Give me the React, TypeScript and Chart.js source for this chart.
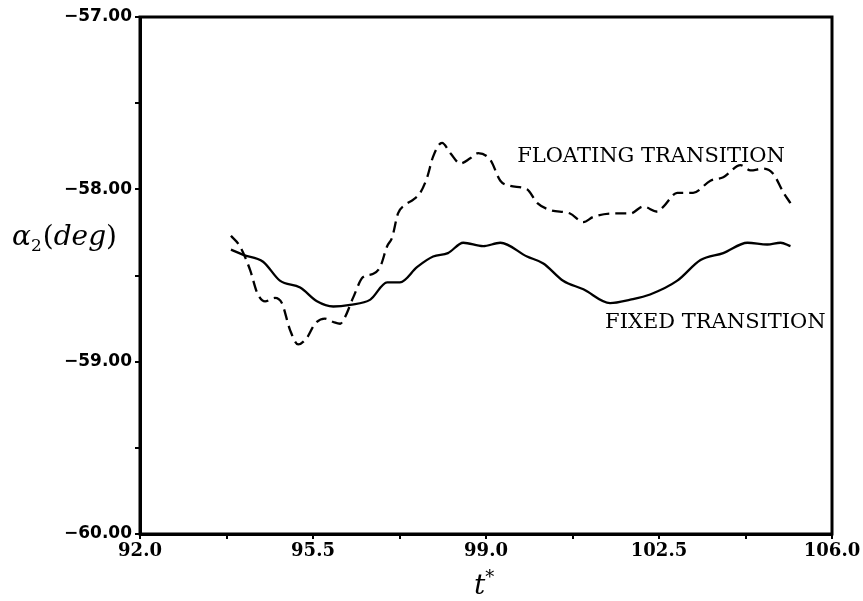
import React, { useEffect, useRef } from "react";
import { Chart, registerables } from "chart.js";

Chart.register(...registerables);

// ---- data ----
const fixedT = [93.84, 94.09, 94.49, 94.83, 95.24, 95.58, 95.91, 96.25, 96.66, 97.0, 97.26, 97.61, 97.93, 98.23, 98.54, 98.94, 99.29, 99.83, 100.16, 100.56, 100.97, 101.51, 101.92, 102.32, 102.87, 103.34, 103.8, 104.29, 104.69, 104.96, 105.16];
const fixedAlpha = [-58.35, -58.38, -58.42, -58.53, -58.57, -58.65, -58.68, -58.67, -58.64, -58.54, -58.54, -58.45, -58.39, -58.37, -58.31, -58.33, -58.31, -58.39, -58.43, -58.53, -58.58, -58.66, -58.64, -58.61, -58.53, -58.41, -58.37, -58.31, -58.32, -58.31, -58.33];

const floatT = [93.84, 94.02, 94.23, 94.37, 94.53, 94.73, 94.87, 95.04, 95.2, 95.38, 95.54, 95.74, 95.91, 96.05, 96.15, 96.31, 96.51, 96.72, 96.86, 97.0, 97.1, 97.22, 97.36, 97.53, 97.67, 97.81, 97.93, 98.11, 98.28, 98.48, 98.68, 98.84, 99.09, 99.29, 99.49, 99.83, 100.04, 100.3, 100.7, 100.97, 101.17, 101.57, 101.92, 102.18, 102.47, 102.59, 102.87, 103.19, 103.54, 103.8, 104.15, 104.35, 104.61, 104.81, 105.02, 105.16];
const floatAlpha = [-58.27, -58.33, -58.47, -58.6, -58.65, -58.63, -58.66, -58.82, -58.9, -58.86, -58.78, -58.75, -58.77, -58.78, -58.74, -58.63, -58.51, -58.49, -58.45, -58.33, -58.28, -58.14, -58.09, -58.06, -58.02, -57.93, -57.81, -57.73, -57.79, -57.85, -57.82, -57.79, -57.83, -57.95, -57.98, -58.0, -58.08, -58.12, -58.14, -58.19, -58.16, -58.14, -58.14, -58.1, -58.13, -58.1, -58.02, -58.02, -57.95, -57.93, -57.86, -57.89, -57.88, -57.91, -58.02, -58.08];

const xTickLabels = ["92.0", "95.5", "99.0", "102.5", "106.0"];
const yTickLabels = ["\u221260.00", "\u221259.00", "\u221258.00", "\u221257.00"];

const annotations = [
  { text: "FLOATING TRANSITION", x: 99.63, y: -57.84 },
  { text: "FIXED TRANSITION", x: 101.41, y: -58.805 },
];

const annotationPlugin = {
  id: "customText",
  afterDraw(chart: any) {
    const { ctx, chartArea, scales } = chart;
    ctx.save();
    // frame
    ctx.strokeStyle = "#000";
    ctx.lineWidth = 3;
    ctx.strokeRect(chartArea.left, chartArea.top, chartArea.right - chartArea.left, chartArea.bottom - chartArea.top);

    // curve labels
    ctx.fillStyle = "#000";
    ctx.font = "21px 'DejaVu Serif'";
    ctx.textAlign = "left";
    ctx.textBaseline = "alphabetic";
    for (const a of annotations) {
      ctx.fillText(a.text, scales.x.getPixelForValue(a.x), scales.y.getPixelForValue(a.y));
    }

    // y title: α2(deg)
    let x = 12;
    const base = 245;
    ctx.font = "italic 28px 'DejaVu Serif'";
    ctx.fillText("\u03b1", x, base);
    x += ctx.measureText("\u03b1").width;
    ctx.font = "17px 'DejaVu Serif'";
    ctx.fillText("2", x, base + 6);
    x += ctx.measureText("2").width + 1;
    ctx.font = "28px 'DejaVu Serif'";
    ctx.fillText("(", x, base);
    x += ctx.measureText("(").width;
    ctx.font = "italic 28px 'DejaVu Serif'";
    ctx.fillText("deg", x, base);
    x += ctx.measureText("deg").width;
    ctx.font = "28px 'DejaVu Serif'";
    ctx.fillText(")", x, base);

    // x title: t*
    const cx = (chartArea.left + chartArea.right) / 2;
    ctx.font = "italic 28px 'DejaVu Serif'";
    const tw = ctx.measureText("t").width;
    ctx.fillText("t", cx - 12, 594);
    ctx.font = "18px 'DejaVu Serif'";
    ctx.fillText("*", cx - 12 + tw, 583);
    ctx.restore();
  },
};

export default function App() {
  const ref = useRef<HTMLCanvasElement | null>(null);
  useEffect(() => {
    if (!ref.current) return;
    const chart = new Chart(ref.current, {
      type: "line",
      data: {
        datasets: [
          {
            label: "FIXED TRANSITION",
            data: fixedT.map((t, i) => ({ x: t, y: fixedAlpha[i] })),
            borderColor: "#000",
            borderWidth: 2.3,
            pointRadius: 0,
            cubicInterpolationMode: "monotone",
            fill: false,
          },
          {
            label: "FLOATING TRANSITION",
            data: floatT.map((t, i) => ({ x: t, y: floatAlpha[i] })),
            borderColor: "#000",
            borderWidth: 2.3,
            borderDash: [11, 6],
            pointRadius: 0,
            cubicInterpolationMode: "monotone",
            fill: false,
          },
        ],
      },
      options: {
        animation: false,
        responsive: false,
        devicePixelRatio: 1,
        layout: { padding: { top: 17, right: 31, left: 0, bottom: 0 } },
        plugins: { legend: { display: false }, tooltip: { enabled: false } },
        scales: {
          x: {
            type: "linear",
            min: 92,
            max: 106,
            afterFit: (s: any) => { s.height = 67; },
            ticks: {
              stepSize: 1.75,
              autoSkip: false,
              maxRotation: 0,
              padding: 2,
              color: "#000",
              font: { family: "'DejaVu Serif'", size: 18, weight: "bold" },
              callback: (_v: any, i: number) => (i % 2 === 0 ? xTickLabels[i / 2] : ""),
            },
            grid: { drawOnChartArea: false, drawTicks: true, tickLength: 5, color: "#000", lineWidth: 2 },
            border: { display: true, color: "#000", width: 3 },
          },
          y: {
            type: "linear",
            min: -60,
            max: -57,
            afterFit: (s: any) => { s.width = 140; },
            ticks: {
              stepSize: 0.5,
              autoSkip: false,
              padding: 3,
              color: "#000",
              font: { family: "'DejaVu Sans'", size: 17, weight: "bold" },
              callback: (_v: any, i: number) => (i % 2 === 0 ? yTickLabels[i / 2] : ""),
            },
            grid: { drawOnChartArea: false, drawTicks: true, tickLength: 5, color: "#000", lineWidth: 2 },
            border: { display: true, color: "#000", width: 3 },
          },
        },
      },
      plugins: [annotationPlugin],
    } as any);
    return () => chart.destroy();
  }, []);
  return (
    <div style={{ position: "absolute", left: 0, top: 0, width: 863, height: 601, background: "#fff" }}>
      <canvas ref={ref} width={863} height={601} />
    </div>
  );
}
